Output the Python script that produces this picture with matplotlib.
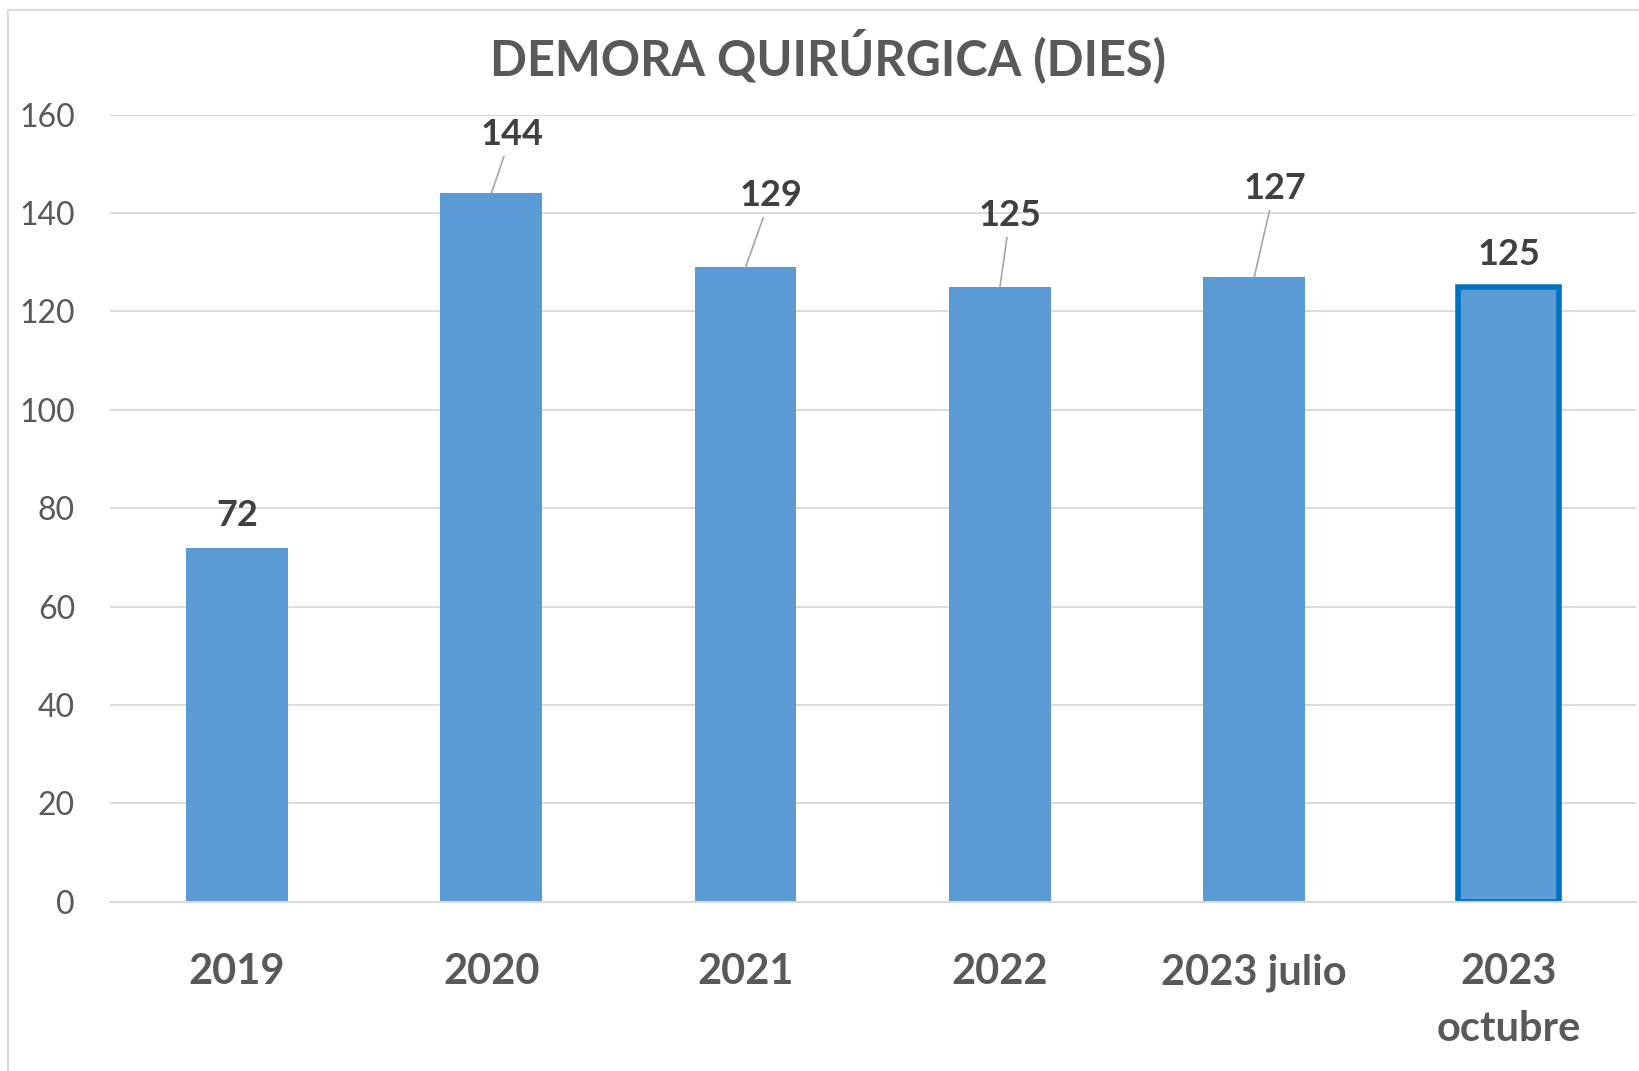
import matplotlib.pyplot as plt
from matplotlib.patches import Rectangle

plt.rcParams['font.family'] = ['Lato', 'DejaVu Sans']

# Data
categories = ['2019', '2020', '2021', '2022', '2023 julio', '2023\noctubre']
values = [72, 144, 129, 125, 127, 125]

# data label placement (x offset in categories, y offset in days) and leader lines
label_dx = [0, 0.08, 0.1, 0.04, 0.08, 0]
label_dy = [6.5, 12, 14.5, 14.5, 18, 6.5]
leader = [False, True, True, True, True, False]

bar_color = '#5B9BD5'
text_gray = '#595959'
grid_gray = '#D9D9D9'

fig = plt.figure(figsize=(16.39, 10.71), dpi=100)
ax = fig.add_axes([0.067, 0.158, 0.931, 0.735])

x = range(len(categories))
bars = ax.bar(x, values, width=0.4, color=bar_color, zorder=3)
# last bar highlighted with a darker border
bars[-1].set_edgecolor('#0070C0')
bars[-1].set_linewidth(4)

for i, v in enumerate(values):
    if leader[i]:
        ax.annotate(str(v), xy=(i, v), xytext=(i + label_dx[i], v + label_dy[i]),
                    ha='center', va='center', fontsize=26, fontweight='bold',
                    color='#404040', zorder=4,
                    arrowprops=dict(arrowstyle='-', color='#A6A6A6', lw=1.2,
                                    shrinkA=2, shrinkB=0))
    else:
        ax.text(i + label_dx[i], v + label_dy[i], str(v), ha='center', va='center',
                fontsize=26, fontweight='bold', color='#404040', zorder=4)

ax.set_xlim(-0.5, len(categories) - 0.5)
ax.set_ylim(0, 160)
ax.set_yticks(range(0, 161, 20))
ax.set_xticks(list(x))
ax.set_xticklabels(categories, fontsize=30, fontweight='bold', color=text_gray,
                   linespacing=1.6, va='top')
ax.tick_params(axis='y', length=0, pad=25, labelsize=23, labelcolor=text_gray)
ax.tick_params(axis='x', length=0, pad=37)

ax.yaxis.grid(True, color=grid_gray, lw=1.3, zorder=0)
for side in ['top', 'right', 'left']:
    ax.spines[side].set_visible(False)
ax.spines['bottom'].set_color(grid_gray)
ax.spines['bottom'].set_linewidth(1.5)
ax.spines['bottom'].set_zorder(4)

fig.text(0.505, 0.948, 'DEMORA QUIRÚRGICA (DIES)', ha='center', va='center',
         fontsize=35, fontweight='bold', color=text_gray)

# chart area border
fig.patches.append(Rectangle((0.005, -0.01), 1.1, 1.0 - 0.0098 + 0.01,
                             transform=fig.transFigure, fill=False,
                             edgecolor=grid_gray, lw=1.5))

fig.savefig('out.png', dpi=100)
